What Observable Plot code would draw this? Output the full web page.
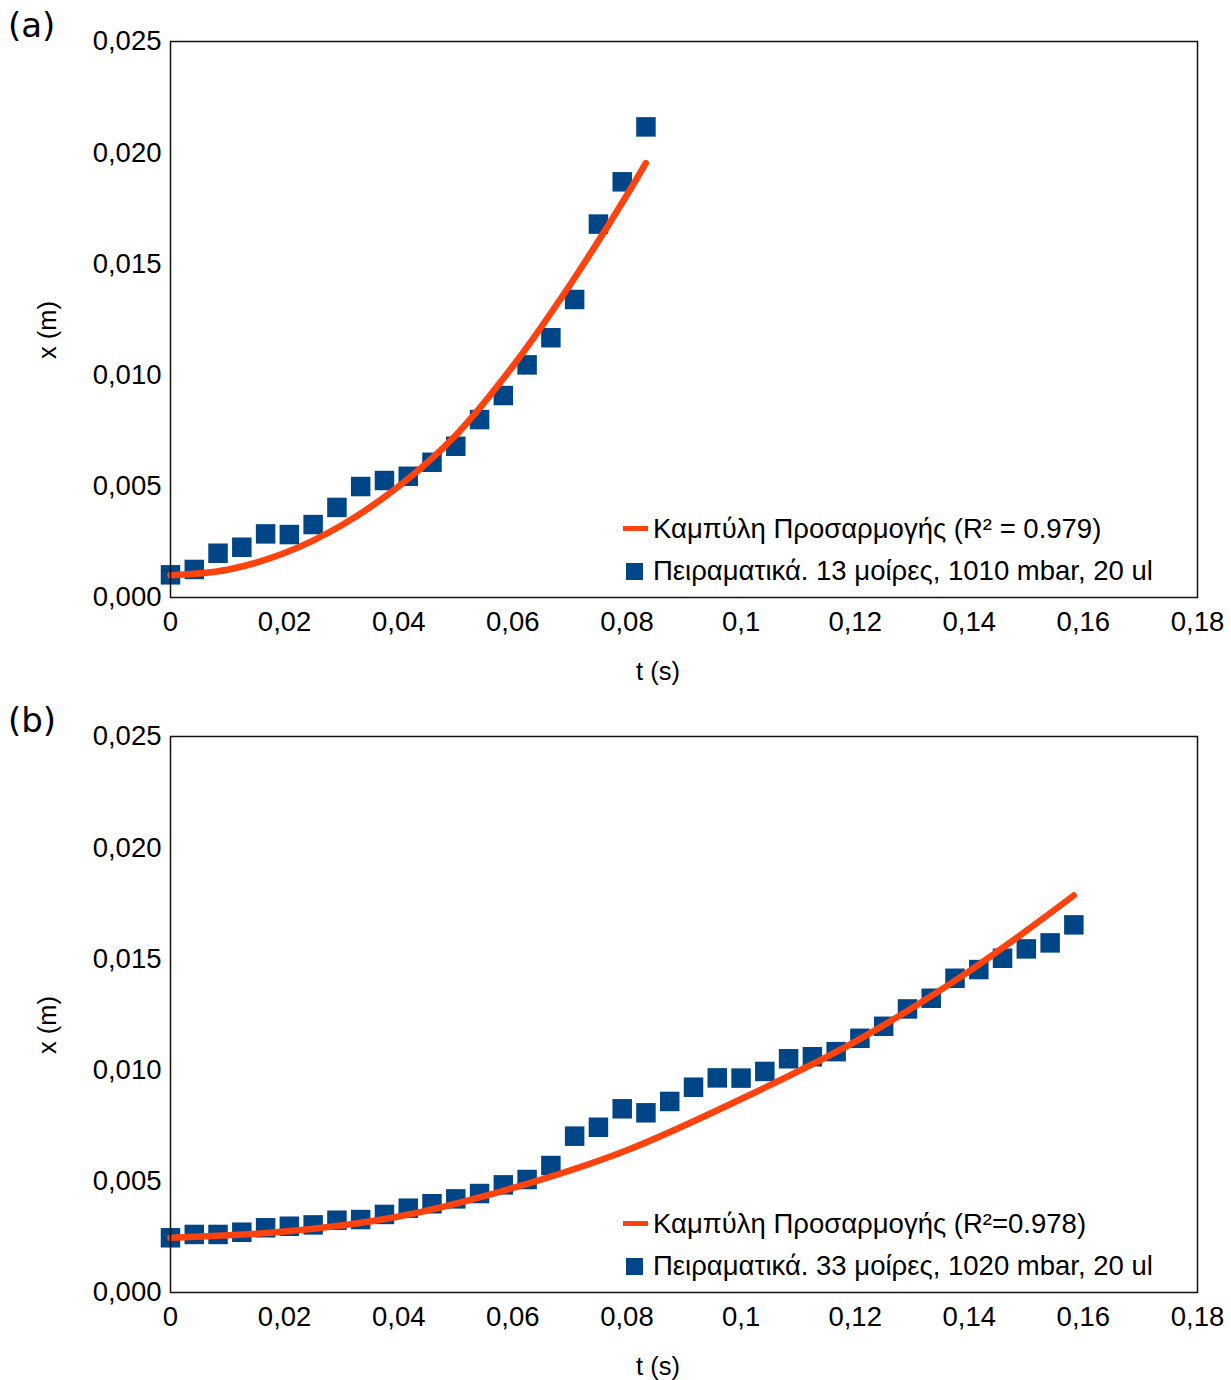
<!DOCTYPE html>
<html>
<head>
<meta charset="utf-8">
<script src="https://cdn.jsdelivr.net/npm/d3@7"></script>
<script src="https://cdn.jsdelivr.net/npm/@observablehq/plot@0.6"></script>
<style>
  body { margin: 0; background: #fff; font-family: "Liberation Sans", Arial, sans-serif; color: #000; }
  .panel { position: relative; width: 1231px; }
  .tag { position: absolute; left: 8px; top: 5px; font: 34px "DejaVu Sans", sans-serif; }
  .xlab { position: absolute; left: 658px; transform: translateX(-50%); font-size: 25.5px; line-height: 30px; white-space: nowrap; }
  .ylab { position: absolute; left: 47px; top: 330px; transform: translate(-50%, -50%) rotate(-90deg); font-size: 25.5px; line-height: 30px; white-space: nowrap; }
  .leg { position: absolute; left: 622px; font-size: 27.5px; line-height: 30px; white-space: nowrap; }
  .leg .row { position: relative; height: 42px; }
  .leg .ln { position: absolute; left: 1px; top: 12px; width: 25px; height: 5px; background: #ff420e; }
  .leg .sq { position: absolute; left: 4px; top: 7px; width: 17px; height: 17px; background: #004586; }
  .leg .tx { position: absolute; left: 31px; top: 0; }
</style>
</head>
<body>
<div id="root"></div>
<script>
// ---- Data ----
const timesA = [0, 0.00417, 0.00833, 0.0125, 0.01667, 0.02083, 0.025, 0.02917, 0.03333, 0.0375,
  0.04167, 0.04583, 0.05, 0.05417, 0.05833, 0.0625, 0.06667, 0.07083, 0.075, 0.07917, 0.08333];
const posA = [0.00102, 0.00126, 0.00199, 0.00226, 0.00286, 0.00283, 0.00328, 0.00405, 0.00499, 0.00526,
  0.00545, 0.00608, 0.00680, 0.00800, 0.00908, 0.01046, 0.01168, 0.01340, 0.01679, 0.01869, 0.02116];
const fitTimesA = [0, 0.01, 0.02, 0.03, 0.04, 0.05, 0.06, 0.07, 0.08, 0.0833];
const fitPosA = [0.00100, 0.00125, 0.00200, 0.00325, 0.00500, 0.00730, 0.01040, 0.01405, 0.01810, 0.01953];

const timesB = [0, 0.00417, 0.00833, 0.0125, 0.01667, 0.02083, 0.025, 0.02917, 0.03333, 0.0375,
  0.04167, 0.04583, 0.05, 0.05417, 0.05833, 0.0625, 0.06667, 0.07083, 0.075, 0.07917,
  0.08333, 0.0875, 0.09167, 0.09583, 0.1, 0.10417, 0.10833, 0.1125, 0.11667, 0.12083,
  0.125, 0.12917, 0.13333, 0.1375, 0.14167, 0.14583, 0.15, 0.15417, 0.15833];
const posB = [0.00246, 0.00261, 0.00261, 0.00271, 0.00291, 0.00298, 0.00304, 0.00325, 0.00328, 0.00351,
  0.00379, 0.00399, 0.00421, 0.00445, 0.00484, 0.00508, 0.00571, 0.00703, 0.00743, 0.00826,
  0.00808, 0.00859, 0.00923, 0.00965, 0.00964, 0.00994, 0.01051, 0.01060, 0.01083, 0.01143,
  0.01197, 0.01275, 0.01323, 0.01413, 0.01452, 0.01503, 0.01545, 0.01572, 0.01653];
const fitTimesB = [0, 0.02, 0.04, 0.06, 0.08, 0.10, 0.12, 0.14, 0.1583];
const fitPosB = [0.00246, 0.00274, 0.00342, 0.00470, 0.00640, 0.00870, 0.01128, 0.01445, 0.01785];

const xTicks = [0, 0.02, 0.04, 0.06, 0.08, 0.1, 0.12, 0.14, 0.16, 0.18];
const xTickLabels = ["0", "0,02", "0,04", "0,06", "0,08", "0,1", "0,12", "0,14", "0,16", "0,18"];
const yTicks = [0, 0.005, 0.01, 0.015, 0.02, 0.025];
const yTickLabels = ["0,000", "0,005", "0,010", "0,015", "0,020", "0,025"];

const panels = [
  { tag: "(a)", t: timesA, x: posA, ft: fitTimesA, fx: fitPosA, height: 695, mb: 98,
    fitLabel: "Καμπύλη Προσαρμογής (R² = 0.979)",
    dataLabel: "Πειραματικά. 13 μοίρες, 1010 mbar, 20 ul" },
  { tag: "(b)", t: timesB, x: posB, ft: fitTimesB, fx: fitPosB, height: 685, mb: 88,
    fitLabel: "Καμπύλη Προσαρμογής (R²=0.978)",
    dataLabel: "Πειραματικά. 33 μοίρες, 1020 mbar, 20 ul" }
];

const blue = "#004586", orange = "#ff420e";
const root = document.getElementById("root");

for (const p of panels) {
  const pts = p.t.map((t, i) => ({t, x: p.x[i]}));
  const fit = p.ft.map((t, i) => ({t, x: p.fx[i]}));
  const chart = Plot.plot({
    width: 1231, height: p.height,
    marginLeft: 170, marginRight: 34, marginTop: 41, marginBottom: p.mb,
    style: { fontFamily: "Liberation Sans, Arial, sans-serif", fontSize: "27.5px", color: "#000", background: "#fff", overflow: "visible" },
    x: { domain: [0, 0.18] },
    y: { domain: [0, 0.025] },
    marks: [
      Plot.axisY({ ticks: yTicks, tickFormat: d => yTickLabels[yTicks.indexOf(d)], tickSize: 0, tickPadding: 9, label: null, fontSize: 27.5 }),
      Plot.axisX({ ticks: xTicks, tickFormat: d => xTickLabels[xTicks.indexOf(d)], tickSize: 0, tickPadding: 14, label: null, fontSize: 27.5 }),
      Plot.dot(pts, { x: "t", y: "x", symbol: "square", r: 11, fill: blue, stroke: "none" }),
      Plot.line(fit, { x: "t", y: "x", stroke: orange, strokeWidth: 6.5, curve: "catmull-rom" }),
      Plot.frame({ stroke: "#111", strokeWidth: 1.5 })
    ]
  });
  const div = document.createElement("div");
  div.className = "panel";
  div.style.height = p.height + "px";
  div.appendChild(chart);
  div.insertAdjacentHTML("beforeend", `
    <div class="tag">${p.tag}</div>
    <div class="ylab">x (m)</div>
    <div class="xlab" style="top:656px">t (s)</div>
    <div class="leg" style="top:514px">
      <div class="row"><div class="ln"></div><div class="tx">${p.fitLabel}</div></div>
      <div class="row"><div class="sq"></div><div class="tx">${p.dataLabel}</div></div>
    </div>`);
  root.appendChild(div);
}
</script>
</body>
</html>
